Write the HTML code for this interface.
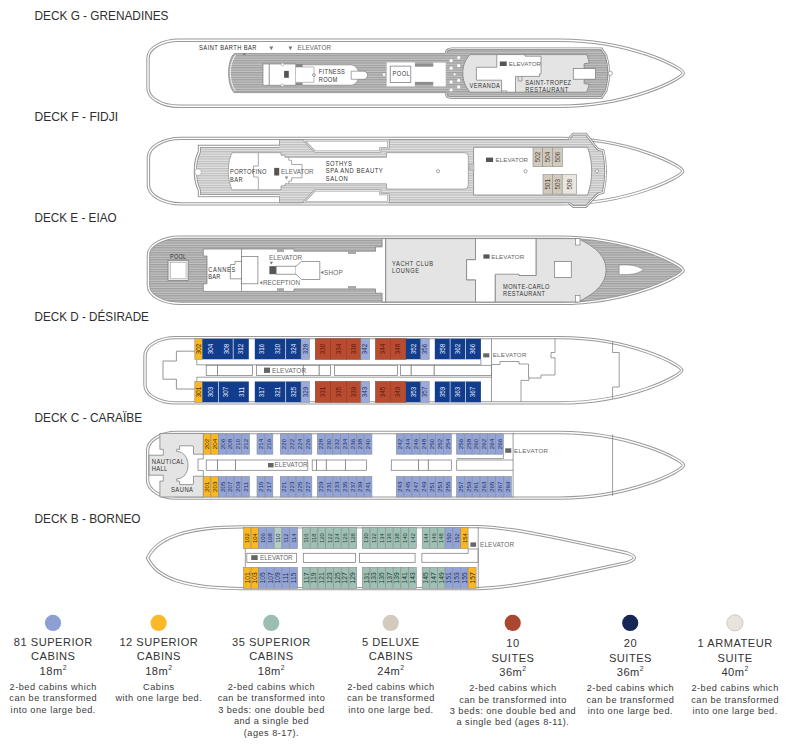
<!DOCTYPE html>
<html><head><meta charset="utf-8"><style>
html,body{margin:0;padding:0;background:#fff;}
body{width:792px;height:747px;overflow:hidden;}
svg{display:block;}
text{font-family:"Liberation Sans",sans-serif;}
</style></head><body>
<svg width="792" height="747" viewBox="0 0 792 747">
<defs>
<pattern id="st" patternUnits="userSpaceOnUse" x="0" y="0" width="8" height="2.4"><rect width="8" height="2.4" fill="#c3c3c3"/><rect y="0" width="8" height="1.2" fill="#9d9d9d"/></pattern>
<pattern id="st2" patternUnits="userSpaceOnUse" x="0" y="0" width="8" height="2.4"><rect width="8" height="2.4" fill="#e3e3e3"/><rect y="0" width="8" height="1.2" fill="#bdbdbd"/></pattern>
</defs>
<text x="34.50" y="19.50" font-size="12.6" fill="#2e2e2e" textLength="134.00" lengthAdjust="spacingAndGlyphs">DECK G - GRENADINES</text>
<text x="34.50" y="120.70" font-size="12.6" fill="#2e2e2e" textLength="83.70" lengthAdjust="spacingAndGlyphs">DECK F - FIDJI</text>
<text x="34.50" y="221.70" font-size="12.6" fill="#2e2e2e" textLength="82.10" lengthAdjust="spacingAndGlyphs">DECK E - EIAO</text>
<text x="34.50" y="321.40" font-size="12.6" fill="#2e2e2e" textLength="114.40" lengthAdjust="spacingAndGlyphs">DECK D - DÉSIRADE</text>
<text x="34.50" y="422.40" font-size="12.6" fill="#2e2e2e" textLength="107.70" lengthAdjust="spacingAndGlyphs">DECK C - CARAÏBE</text>
<text x="34.50" y="523.40" font-size="12.6" fill="#2e2e2e" textLength="106.10" lengthAdjust="spacingAndGlyphs">DECK B - BORNEO</text>
<path d="M 179.0,40.2 L 560,40.2 C 630,40.2 683.3,67.82 683.3,73.1 C 683.3,78.38 630,106.2 560,106.2 L 179.0,106.2 C 161.888,106.2 148.0,98.136 148.0,88.2 L 148.0,58.2 C 148.0,48.264 161.888,40.2 179.0,40.2 Z" fill="#fff" stroke="#999999" stroke-width="3.4" stroke-linejoin="round"/>
<path d="M 179.0,40.2 L 560,40.2 C 630,40.2 683.3,67.82 683.3,73.1 C 683.3,78.38 630,106.2 560,106.2 L 179.0,106.2 C 161.888,106.2 148.0,98.136 148.0,88.2 L 148.0,58.2 C 148.0,48.264 161.888,40.2 179.0,40.2 Z" fill="none" stroke="#ffffff" stroke-width="1.4" stroke-linejoin="round"/>
<path d="M 234,53.6 L 447,53.6 L 447,92.6 L 234,92.6 C 230,88 228.6,80 228.6,73 C 228.6,66 230,58 234,53.6 Z" fill="url(#st)" stroke="#8a8a8a" stroke-width="0.8" />
<path d="M 235.5,55 C 232,60 230.3,66 230.3,73 C 230.3,80 232,86 235.5,91" fill="none" stroke="#fff" stroke-width="0.8" />
<path d="M 446,53.6 C 446,50.6 448,48.7 452,48.7 L 601.5,48.7 L 606,55.5 C 608,62 608.8,68 608.8,73.2 C 608.8,78.4 608,84.4 606,91 L 601.5,97.7 L 452,97.7 C 448,97.7 446,95.8 446,92.8 Z" fill="url(#st)" stroke="none" stroke-width="0.7" />
<path d="M 446,53.6 C 446,50.6 448,48.7 452,48.7 L 601.5,48.7 L 606,55.5 C 608,62 608.8,68 608.8,73.2 C 608.8,78.4 608,84.4 606,91 L 601.5,97.7 L 452,97.7 C 448,97.7 446,95.8 446,92.8" fill="none" stroke="#8a8a8a" stroke-width="2.6" />
<path d="M 446,53.6 C 446,50.6 448,48.7 452,48.7 L 601.5,48.7 L 606,55.5 C 608,62 608.8,68 608.8,73.2 C 608.8,78.4 608,84.4 606,91 L 601.5,97.7 L 452,97.7 C 448,97.7 446,95.8 446,92.8" fill="none" stroke="#fff" stroke-width="0.9" />
<path d="M 470,54.6 L 587,54.6 L 589.3,62.8 L 584.1,63.8 L 584.1,83.6 L 589.3,84.4 L 586.7,92.2 L 470,92.2 C 465,86 462.8,80 462.8,73 C 462.8,66 465,60 470,54.6 Z" fill="#e4e4e4" stroke="#7c7c7c" stroke-width="0.75" />
<rect x="573.30" y="68.60" width="22.30" height="10.60" fill="#fff" stroke="#7c7c7c" stroke-width="0.75" />
<circle cx="610.3" cy="73.4" r="2.1" fill="#fff" stroke="#8a8a8a" stroke-width="0.7"/>
<path d="M 476.4,67.3 L 496.8,67.3 L 496.8,54.6 L 525,54.6 L 525,56.2 L 541,56.2 L 541,74 L 539.5,74 L 539.5,76.4 L 515.5,76.4 L 515.5,92.2 L 501.6,92.2 L 501.6,80.2 L 476.4,80.2 Z" fill="#fff" stroke="#7c7c7c" stroke-width="0.75" />
<path d="M 501.6,90.8 L 506.7,90.8 L 506.7,92.4" fill="none" stroke="#7c7c7c" stroke-width="0.65" />
<path d="M 518.2,76.4 L 518.2,81 L 522,81 L 522,76.4" fill="none" stroke="#7c7c7c" stroke-width="0.65" />
<circle cx="451.1" cy="60.7" r="1.6" fill="#fff"/>
<circle cx="451.1" cy="68.2" r="1.6" fill="#fff"/>
<circle cx="451.1" cy="81.9" r="1.6" fill="#fff"/>
<circle cx="451.1" cy="90" r="1.6" fill="#fff"/>
<circle cx="458.7" cy="57.6" r="1.6" fill="#fff"/>
<circle cx="458.7" cy="65.7" r="1.6" fill="#fff"/>
<circle cx="458.7" cy="80.4" r="1.6" fill="#fff"/>
<circle cx="458.7" cy="86.9" r="1.6" fill="#fff"/>
<circle cx="454.6" cy="74.3" r="1.1" fill="#fff"/>
<rect x="263.00" y="64.00" width="6.20" height="21.20" fill="#fff" stroke="#7c7c7c" stroke-width="0.65" />
<rect x="269.20" y="64.00" width="26.60" height="21.20" fill="#fff" stroke="#7c7c7c" stroke-width="0.65" />
<rect x="284.10" y="70.90" width="4.70" height="6.90" fill="#555" />
<rect x="296.00" y="64.00" width="7.00" height="3.00" fill="#888" />
<rect x="296.00" y="82.60" width="7.00" height="2.60" fill="#888" />
<rect x="295.80" y="67.00" width="7.70" height="15.60" fill="#fff" />
<path d="M 302.6,64.9 L 352,64.9 C 356,66 358.8,70 359,75 C 358.8,80 356,84 352,85.1 L 302.6,85.1 Z" fill="#fff" stroke="none" stroke-width="0.7" />
<path d="M 302.6,64.9 L 352,64.9 C 356,66 358.8,70 359,75 C 358.8,80 356,84 352,85.1 L 302.6,85.1" fill="none" stroke="#777" stroke-width="0.5" />
<path d="M 296,67 L 314,67 L 314,82.3 L 296,82.3" fill="none" stroke="#777" stroke-width="0.5" />
<circle cx="314" cy="75" r="1.4" fill="#fff" stroke="#555" stroke-width="0.6"/>
<path d="M 351.2,71.2 L 364,71.2 C 366.5,72 367.6,73.5 367.6,75.2 C 367.6,77 366.5,78.6 364,79.3 L 351.2,79.3 Z" fill="#fff" stroke="#7c7c7c" stroke-width="0.65" />
<circle cx="282.5" cy="64.5" r="1.4" fill="#fff" stroke="#8a8a8a" stroke-width="0.5"/>
<circle cx="282.5" cy="85.2" r="1.4" fill="#fff" stroke="#8a8a8a" stroke-width="0.5"/>
<circle cx="384" cy="74.6" r="1.3" fill="#fff"/>
<path d="M 386.6,62.3 L 415,62.3 L 415,66.5 L 433.1,66.5 L 433.1,62.5 L 445.9,62.5 L 445.9,86.4 L 433.1,86.4 L 433.1,82 L 415,82 L 415,86.4 L 386.6,86.4 Z" fill="#fff" stroke="#bdbdbd" stroke-width="0.4" />
<rect x="415.00" y="63.80" width="18.10" height="2.70" fill="#8e8e8e" />
<rect x="415.00" y="82.00" width="18.10" height="2.60" fill="#8e8e8e" />
<rect x="390.20" y="66.10" width="20.60" height="16.30" fill="#fff" stroke="#6f6f6f" stroke-width="0.7" />
<text x="199.10" y="49.70" font-size="5.76" fill="#2a2a2a" textLength="57.40" lengthAdjust="spacing" transform="translate(0 49.70) scale(1 1.1628) translate(0 -49.70)">SAINT BARTH BAR</text>
<path d="M 242.6,54.6 Q 244.3,52.6 246,54.6 Z" fill="#444"/>
<path d="M 269.3,46.6 L 273.3,46.6 L 271.3,50.2 Z" fill="#7a7a7a"/>
<path d="M 288.4,46.6 L 292.4,46.6 L 290.4,50.2 Z" fill="#7a7a7a"/>
<text x="297.60" y="49.70" font-size="6.4" fill="#666666" textLength="33.50" lengthAdjust="spacing">ELEVATOR</text>
<text x="318.80" y="74.00" font-size="5.68" fill="#333333" textLength="26.10" lengthAdjust="spacing" transform="translate(0 74.00) scale(1 1.1628) translate(0 -74.00)">FITNESS</text>
<text x="318.80" y="81.80" font-size="5.68" fill="#333333" textLength="18.50" lengthAdjust="spacing" transform="translate(0 81.80) scale(1 1.1628) translate(0 -81.80)">ROOM</text>
<text x="392.60" y="75.90" font-size="5.68" fill="#333333" textLength="17.10" lengthAdjust="spacing" transform="translate(0 75.90) scale(1 1.1628) translate(0 -75.90)">POOL</text>
<rect x="499.80" y="61.50" width="6.90" height="4.50" fill="#555" />
<text x="508.80" y="66.00" font-size="6.2" fill="#666666" textLength="32.20" lengthAdjust="spacing">ELEVATOR</text>
<text x="469.50" y="87.70" font-size="5.68" fill="#333333" textLength="30.30" lengthAdjust="spacing" transform="translate(0 87.70) scale(1 1.1628) translate(0 -87.70)">VERANDA</text>
<text x="525.30" y="85.00" font-size="5.68" fill="#333333" textLength="45.80" lengthAdjust="spacing" transform="translate(0 85.00) scale(1 1.1628) translate(0 -85.00)">SAINT-TROPEZ</text>
<text x="525.30" y="92.00" font-size="5.68" fill="#333333" textLength="43.00" lengthAdjust="spacing" transform="translate(0 92.00) scale(1 1.1628) translate(0 -92.00)">RESTAURANT</text>
<path d="M 181.4,138.4 L 560,138.4 C 630,138.4 682.7,165.91 682.7,171.15 C 682.7,176.39 630,203.9 560,203.9 L 181.4,203.9 C 163.184,203.9 148.4,195.388 148.4,184.9 L 148.4,157.4 C 148.4,146.912 163.184,138.4 181.4,138.4 Z" fill="#fff" stroke="#999999" stroke-width="3.4" stroke-linejoin="round"/>
<path d="M 181.4,138.4 L 560,138.4 C 630,138.4 682.7,165.91 682.7,171.15 C 682.7,176.39 630,203.9 560,203.9 L 181.4,203.9 C 163.184,203.9 148.4,195.388 148.4,184.9 L 148.4,157.4 C 148.4,146.912 163.184,138.4 181.4,138.4 Z" fill="none" stroke="#ffffff" stroke-width="1.4" stroke-linejoin="round"/>
<path d="M 198.3,145.2 L 279.5,145.2 L 279.5,139.6 L 303,139.6 L 314.5,151 L 380.5,151 L 380.5,147.6 L 389,147.6 L 389,139.6 L 569.8,139.6 L 569.8,137.8 L 573.2,134.1 L 585.9,134.1 L 594.6,145.3 L 598,149.3 L 603.2,150.6 C 605,158 605.6,165 605.6,171.5 C 605.6,178 605,185 603.2,192.4 L 598,194 L 594.6,197.2 L 585.9,206.6 L 573.2,206.6 L 569.8,203.5 L 569.8,202.7 L 389,202.7 L 389,194.8 L 380.5,194.8 L 380.5,191 L 314.5,191 L 303,202.7 L 279.5,202.7 L 279.5,196.7 L 198.3,196.7 L 198.3,190.5 C 195.6,185 194.2,178 194.2,171 C 194.2,164 195.6,157 198.3,151.5 Z" fill="url(#st2)" stroke="#8f8f8f" stroke-width="0.8" stroke-linejoin="miter"/>
<path d="M 279.5,146.4 L 199.4,146.4 L 199.4,151.8 C 196.8,157 195.4,164 195.4,171 C 195.4,178 196.8,185 199.4,190.2 L 199.4,195.6 L 279.5,195.6" fill="none" stroke="#8f8f8f" stroke-width="2.9" stroke-linejoin="round"/>
<path d="M 279.5,146.4 L 199.4,146.4 L 199.4,151.8 C 196.8,157 195.4,164 195.4,171 C 195.4,178 196.8,185 199.4,190.2 L 199.4,195.6 L 279.5,195.6" fill="none" stroke="#ffffff" stroke-width="1.3" stroke-linejoin="round"/>
<path d="M 569.8,139.6 L 569.8,137.8 L 573.2,134.1 L 585.9,134.1 L 594.6,145.3 L 598,149.3 L 603.2,150.6 C 605,158 605.6,165 605.6,171.5 C 605.6,178 605,185 603.2,192.4 L 598,194 L 594.6,197.2 L 585.9,206.6 L 573.2,206.6 L 569.8,203.5 L 569.8,202.7" fill="none" stroke="#8f8f8f" stroke-width="2.6" stroke-linejoin="round"/>
<path d="M 569.8,139.6 L 569.8,137.8 L 573.2,134.1 L 585.9,134.1 L 594.6,145.3 L 598,149.3 L 603.2,150.6 C 605,158 605.6,165 605.6,171.5 C 605.6,178 605,185 603.2,192.4 L 598,194 L 594.6,197.2 L 585.9,206.6 L 573.2,206.6 L 569.8,203.5 L 569.8,202.7" fill="none" stroke="#ffffff" stroke-width="1.0" stroke-linejoin="round"/>
<rect x="195" y="169" width="6.1" height="6.3" rx="2.4" fill="#fff" stroke="#999" stroke-width="0.5"/>
<path d="M 303.8,140.3 L 314.8,151.6 L 380.2,151.6 L 380.2,148.2 L 388.4,148.2 L 388.4,140.3 Z" fill="#fff" stroke="#9a9a9a" stroke-width="2.2" stroke-linejoin="round"/>
<path d="M 303.8,140.3 L 314.8,151.6 L 380.2,151.6 L 380.2,148.2 L 388.4,148.2 L 388.4,140.3 Z" fill="none" stroke="#ffffff" stroke-width="0.8" stroke-linejoin="round"/>
<path d="M 303.8,202 L 314.8,190.4 L 380.2,190.4 L 380.2,194.2 L 388.4,194.2 L 388.4,202 Z" fill="#fff" stroke="#9a9a9a" stroke-width="2.2" stroke-linejoin="round"/>
<path d="M 303.8,202 L 314.8,190.4 L 380.2,190.4 L 380.2,194.2 L 388.4,194.2 L 388.4,202 Z" fill="none" stroke="#ffffff" stroke-width="0.8" stroke-linejoin="round"/>
<path d="M 232,152.7 L 281,152.7 L 281,155.3 L 285,155.3 L 285,157.3 L 386.5,157.3 L 386.5,152.7 L 464.5,152.7 Q 468.3,152.7 468.3,156.5 L 468.3,185.2 Q 468.3,189 464.5,189 L 386.5,189 L 386.5,183.8 L 285,183.8 L 285,185.8 L 281,185.8 L 281,189.8 L 232,189.8 C 229.5,184 228.3,178 228.3,171 C 228.3,164 229.5,158 232,152.7 Z" fill="#fff" stroke="#7d7d7d" stroke-width="0.6" />
<path d="M 288.8,157.3 L 288.8,160.3 L 291.6,160.3 L 291.6,164.5 L 302,164.5 L 302,177.8 L 291.6,177.8 L 291.6,181 L 288.8,181 L 288.8,183.8" fill="none" stroke="#7c7c7c" stroke-width="0.65" />
<path d="M 258.3,152.7 L 258.3,166 L 253.5,166 L 253.5,177 L 258.3,177 L 258.3,189.8" fill="none" stroke="#7c7c7c" stroke-width="0.65" />
<path d="M 473.6,147.3 L 587.6,147.3 C 590.3,155 591.7,163 591.7,171.2 C 591.7,179.4 590.3,187 587.6,195 L 473.6,195 Z" fill="#fff" stroke="#7c7c7c" stroke-width="0.75" />
<rect x="469.50" y="164.00" width="4.50" height="6.00" fill="#c8c8c8" stroke="#999" stroke-width="0.4" />
<rect x="533.00" y="147.30" width="9.50" height="19.40" fill="#d2cabd" stroke="#8d8d8d" stroke-width="0.6" />
<text x="540.02" y="157.00" font-size="6.3" fill="#4a3f35" text-anchor="middle" transform="rotate(-90 540.02 157.00)">502</text>
<rect x="542.50" y="147.30" width="9.90" height="19.40" fill="#d2cabd" stroke="#8d8d8d" stroke-width="0.6" />
<text x="549.72" y="157.00" font-size="6.3" fill="#4a3f35" text-anchor="middle" transform="rotate(-90 549.72 157.00)">504</text>
<rect x="552.40" y="147.30" width="10.00" height="19.40" fill="#d2cabd" stroke="#8d8d8d" stroke-width="0.6" />
<text x="559.67" y="157.00" font-size="6.3" fill="#4a3f35" text-anchor="middle" transform="rotate(-90 559.67 157.00)">506</text>
<rect x="543.00" y="174.60" width="9.40" height="19.50" fill="#d2cabd" stroke="#8d8d8d" stroke-width="0.6" />
<text x="549.97" y="184.35" font-size="6.3" fill="#4a3f35" text-anchor="middle" transform="rotate(-90 549.97 184.35)">501</text>
<rect x="552.40" y="174.60" width="9.80" height="19.50" fill="#d2cabd" stroke="#8d8d8d" stroke-width="0.6" />
<text x="559.57" y="184.35" font-size="6.3" fill="#4a3f35" text-anchor="middle" transform="rotate(-90 559.57 184.35)">503</text>
<rect x="562.20" y="174.60" width="14.40" height="19.50" fill="#e9e5df" stroke="#8d8d8d" stroke-width="0.6" />
<text x="571.67" y="184.35" font-size="6.3" fill="#4a3f35" text-anchor="middle" transform="rotate(-90 571.67 184.35)">508</text>
<circle cx="438" cy="171.2" r="1.6" fill="#fff" stroke="#6f6f6f" stroke-width="0.6"/>
<circle cx="525.5" cy="171.2" r="1.6" fill="#fff" stroke="#6f6f6f" stroke-width="0.6"/>
<circle cx="596.9" cy="171.2" r="1.6" fill="#fff" stroke="#6f6f6f" stroke-width="0.6"/>
<rect x="274.20" y="167.90" width="5.00" height="7.60" fill="#555" />
<path d="M 284.8,176.6 L 288.2,176.6 L 286.5,179.4 Z" fill="#888"/>
<text x="281.00" y="174.00" font-size="6.4" fill="#666666" textLength="32.60" lengthAdjust="spacingAndGlyphs">ELEVATOR</text>
<text x="230.00" y="174.00" font-size="5.68" fill="#333333" textLength="36.40" lengthAdjust="spacing" transform="translate(0 174.00) scale(1 1.1628) translate(0 -174.00)">PORTOFINO</text>
<text x="230.00" y="181.80" font-size="5.68" fill="#333333" textLength="12.50" lengthAdjust="spacing" transform="translate(0 181.80) scale(1 1.1628) translate(0 -181.80)">BAR</text>
<text x="325.80" y="166.00" font-size="5.85" fill="#333333" textLength="26.00" lengthAdjust="spacing" transform="translate(0 166.00) scale(1 1.1628) translate(0 -166.00)">SOTHYS</text>
<text x="325.80" y="173.20" font-size="5.85" fill="#333333" textLength="56.90" lengthAdjust="spacing" transform="translate(0 173.20) scale(1 1.1628) translate(0 -173.20)">SPA AND BEAUTY</text>
<text x="325.80" y="181.00" font-size="5.85" fill="#333333" textLength="22.00" lengthAdjust="spacing" transform="translate(0 181.00) scale(1 1.1628) translate(0 -181.00)">SALON</text>
<rect x="486.00" y="157.60" width="7.10" height="4.40" fill="#555" />
<text x="495.50" y="162.00" font-size="6.2" fill="#666666" textLength="32.50" lengthAdjust="spacing">ELEVATOR</text>
<path d="M 180.4,237.1 L 560,237.1 C 630,237.1 683.2,264.95 683.2,270.25 C 683.2,275.55 630,303.4 560,303.4 L 180.4,303.4 C 162.73600000000002,303.4 148.4,295.33599999999996 148.4,285.4 L 148.4,255.1 C 148.4,245.164 162.73600000000002,237.1 180.4,237.1 Z" fill="url(#st)" stroke="#999999" stroke-width="3.4" stroke-linejoin="round"/>
<path d="M 180.4,237.1 L 560,237.1 C 630,237.1 683.2,264.95 683.2,270.25 C 683.2,275.55 630,303.4 560,303.4 L 180.4,303.4 C 162.73600000000002,303.4 148.4,295.33599999999996 148.4,285.4 L 148.4,255.1 C 148.4,245.164 162.73600000000002,237.1 180.4,237.1 Z" fill="none" stroke="#ffffff" stroke-width="1.4" stroke-linejoin="round"/>
<rect x="168.00" y="260.30" width="20.20" height="20.20" fill="#e8e8e8" stroke="#7c7c7c" stroke-width="0.75" />
<rect x="170.50" y="262.50" width="15.50" height="16.00" fill="#fff" stroke="#999" stroke-width="0.5" />
<text x="170.00" y="258.80" font-size="5.5" fill="#333333" textLength="16.00" lengthAdjust="spacing" transform="translate(0 258.80) scale(1 1.1628) translate(0 -258.80)">POOL</text>
<path d="M 203.3,249 L 294,249 L 294,251.2 L 375.5,251.2 L 375.5,246.9 L 382.1,246.9 L 382.1,238.6 L 385.7,238.6 L 385.7,302 L 382.1,302 L 382.1,293.2 L 375.5,293.2 L 375.5,288.9 L 294,288.9 L 294,291.4 L 203.3,291.4 L 203.3,283.8 L 207,283.8 L 207,256 L 203.3,256 Z" fill="#fff" stroke="#7c7c7c" stroke-width="0.75" />
<rect x="277.00" y="248.60" width="7.00" height="3.40" fill="#a8a8a8" />
<rect x="348.00" y="251.00" width="8.00" height="3.00" fill="#a8a8a8" />
<rect x="277.00" y="288.20" width="7.00" height="3.20" fill="#a8a8a8" />
<rect x="348.00" y="286.00" width="8.00" height="2.90" fill="#a8a8a8" />
<path d="M 241.5,249 L 241.5,291.4" fill="none" stroke="#7c7c7c" stroke-width="0.75" />
<rect x="241.50" y="256.50" width="16.40" height="27.30" fill="#fff" stroke="#7c7c7c" stroke-width="0.75" />
<path d="M 241.5,261.4 L 235,261.4 L 235,264.5 L 230.3,264.5 L 230.3,278.8 L 241.5,278.8" fill="none" stroke="#7c7c7c" stroke-width="0.75" />
<rect x="269.40" y="266.20" width="6.80" height="8.00" fill="#555" />
<rect x="276.20" y="266.20" width="19.80" height="8.00" fill="#fff" stroke="#7c7c7c" stroke-width="0.75" />
<path d="M 296,266.2 L 301.5,261.5 L 319.8,261.5 L 319.8,279.5 L 301.5,279.5 L 296,274.2" fill="#fff" stroke="#7c7c7c" stroke-width="0.75" />
<path d="M 269.6,261.8 L 273,261.8 L 271.3,264.6 Z" fill="#777"/>
<text x="269.10" y="260.00" font-size="6.4" fill="#666666" textLength="33.00" lengthAdjust="spacingAndGlyphs">ELEVATOR</text>
<path d="M 320.6,272.4 L 323.4,270.6 L 323.4,274.2 Z" fill="#777"/>
<text x="324.00" y="274.70" font-size="6.4" fill="#666666" textLength="18.80" lengthAdjust="spacing">SHOP</text>
<path d="M 259.6,282.8 L 262.4,281 L 262.4,284.6 Z" fill="#777"/>
<text x="263.00" y="285.00" font-size="6.4" fill="#666666" textLength="37.00" lengthAdjust="spacingAndGlyphs">RECEPTION</text>
<text x="208.20" y="272.10" font-size="5.68" fill="#333333" textLength="27.20" lengthAdjust="spacing" transform="translate(0 272.10) scale(1 1.1628) translate(0 -272.10)">CANNES</text>
<text x="208.20" y="279.00" font-size="5.68" fill="#333333" textLength="12.10" lengthAdjust="spacing" transform="translate(0 279.00) scale(1 1.1628) translate(0 -279.00)">BAR</text>
<path d="M 385.7,238.6 L 475.5,238.6 L 475.5,259.7 L 466.6,259.7 L 466.6,279.8 L 475.5,279.8 L 475.5,302 L 385.7,302 Z" fill="#e4e4e4" stroke="#7c7c7c" stroke-width="0.75" />
<text x="392.00" y="265.70" font-size="5.68" fill="#333333" textLength="41.00" lengthAdjust="spacing" transform="translate(0 265.70) scale(1 1.1628) translate(0 -265.70)">YACHT CLUB</text>
<text x="392.00" y="272.70" font-size="5.68" fill="#333333" textLength="27.00" lengthAdjust="spacing" transform="translate(0 272.70) scale(1 1.1628) translate(0 -272.70)">LOUNGE</text>
<path d="M 475.5,238.6 L 536.2,238.6 L 536.2,275.5 L 495.3,275.5 L 495.3,302 L 475.5,302 L 475.5,279.8 L 466.6,279.8 L 466.6,259.7 L 475.5,259.7 Z" fill="#fff" stroke="#7c7c7c" stroke-width="0.75" />
<path d="M 536.2,238.6 L 578,238.6 C 598,248 606,258 606,270 C 606,282 598,292 578,302 L 495.3,302 L 495.3,274.2 L 519,274.2 L 519,275.5 L 536.2,275.5 Z" fill="#e4e4e4" stroke="#7c7c7c" stroke-width="0.75" />
<rect x="575.50" y="238.60" width="4.50" height="6.40" fill="#fff" stroke="#7c7c7c" stroke-width="0.65" />
<rect x="575.50" y="295.50" width="4.50" height="6.50" fill="#fff" stroke="#7c7c7c" stroke-width="0.65" />
<rect x="554.40" y="261.60" width="16.90" height="15.90" fill="#fff" stroke="#7c7c7c" stroke-width="0.75" />
<path d="M 619.2,265 L 628,265 C 635,265.3 640,267.3 643.4,269.8 C 640,272.3 635,274.3 628,274.6 L 619.2,274.6 Z" fill="#fff" stroke="#777" stroke-width="0.5" />
<rect x="483.40" y="254.40" width="6.20" height="4.20" fill="#555" />
<text x="491.30" y="258.60" font-size="6.2" fill="#666666" textLength="32.80" lengthAdjust="spacing">ELEVATOR</text>
<text x="503.10" y="288.80" font-size="5.68" fill="#333333" textLength="46.20" lengthAdjust="spacing" transform="translate(0 288.80) scale(1 1.1628) translate(0 -288.80)">MONTE-CARLO</text>
<text x="503.10" y="295.70" font-size="5.68" fill="#333333" textLength="42.00" lengthAdjust="spacing" transform="translate(0 295.70) scale(1 1.1628) translate(0 -295.70)">RESTAURANT</text>
<path d="M 176.0,337.6 L 560,337.6 C 630,337.6 681.7,365.03 681.7,370.25 C 681.7,375.47 630,402.9 560,402.9 L 176.0,402.9 C 158.888,402.9 145.0,394.83599999999996 145.0,384.9 L 145.0,355.6 C 145.0,345.66400000000004 158.888,337.6 176.0,337.6 Z" fill="#fff" stroke="#999999" stroke-width="3.4" stroke-linejoin="round"/>
<path d="M 176.0,337.6 L 560,337.6 C 630,337.6 681.7,365.03 681.7,370.25 C 681.7,375.47 630,402.9 560,402.9 L 176.0,402.9 C 158.888,402.9 145.0,394.83599999999996 145.0,384.9 L 145.0,355.6 C 145.0,345.66400000000004 158.888,337.6 176.0,337.6 Z" fill="none" stroke="#ffffff" stroke-width="1.4" stroke-linejoin="round"/>
<path d="M 194.8,351.2 L 176.4,351.2 L 176.4,361 L 163,361 L 163,379.2 L 176.4,379.2 L 176.4,389 L 194.8,389" fill="none" stroke="#7a7a7a" stroke-width="0.8" />
<path d="M 196.8,359.5 L 196.8,364.8 L 480.9,364.8 L 480.9,359.3" fill="none" stroke="#7c7c7c" stroke-width="0.75" />
<path d="M 196.8,381.5 L 196.8,377.2 L 491.5,377.2" fill="none" stroke="#7c7c7c" stroke-width="0.75" />
<rect x="206.20" y="365.30" width="11.40" height="10.20" fill="#fff" stroke="#7c7c7c" stroke-width="0.75" />
<rect x="217.60" y="365.30" width="34.80" height="10.20" fill="#fff" stroke="#7c7c7c" stroke-width="0.75" />
<rect x="256.40" y="365.30" width="46.90" height="10.20" fill="#fff" stroke="#7c7c7c" stroke-width="0.75" />
<rect x="303.30" y="365.30" width="15.90" height="10.20" fill="#fff" stroke="#7c7c7c" stroke-width="0.75" />
<rect x="319.20" y="365.30" width="11.40" height="10.20" fill="#fff" stroke="#7c7c7c" stroke-width="0.75" />
<rect x="334.40" y="365.30" width="63.00" height="10.20" fill="#fff" stroke="#7c7c7c" stroke-width="0.75" />
<rect x="400.60" y="365.30" width="10.60" height="10.20" fill="#fff" stroke="#7c7c7c" stroke-width="0.75" />
<rect x="411.20" y="365.30" width="23.00" height="10.20" fill="#fff" stroke="#7c7c7c" stroke-width="0.75" />
<rect x="434.20" y="365.30" width="57.30" height="10.20" fill="#fff" stroke="#7c7c7c" stroke-width="0.75" />
<path d="M 491.5,338.5 L 491.5,402" fill="none" stroke="#7c7c7c" stroke-width="0.75" />
<path d="M 491.5,364.5 L 500,364.5 L 500,361.5 L 519,361.5 L 519,364 L 528.5,364 L 528.5,378 L 541,378 L 541,375 L 555,375 L 555,357.8 L 551,357.8 L 551,352.5 L 555,352.5 L 555,338.5" fill="none" stroke="#7c7c7c" stroke-width="0.75" />
<path d="M 521,402 L 521,380.4 L 529,380.4 L 529,378" fill="none" stroke="#7c7c7c" stroke-width="0.75" />
<path d="M 612.6,341.8 L 612.6,352.5 L 619.2,352.5 L 619.2,387 L 612.6,387 L 612.6,398.6" fill="none" stroke="#7c7c7c" stroke-width="0.75" />
<rect x="194.80" y="338.80" width="7.60" height="20.50" fill="#fbb722" stroke="#8d8d8d" stroke-width="0.6" />
<text x="200.87" y="349.05" font-size="6.3" fill="#3a2a00" text-anchor="middle" transform="rotate(-90 200.87 349.05)">302</text>
<rect x="202.40" y="338.80" width="30.80" height="20.50" fill="#123c8c" />
<text x="213.47" y="349.05" font-size="6.3" fill="#e8eeff" text-anchor="middle" transform="rotate(-90 213.47 349.05)">304</text>
<text x="228.67" y="349.05" font-size="6.3" fill="#e8eeff" text-anchor="middle" transform="rotate(-90 228.67 349.05)">308</text>
<rect x="233.20" y="338.80" width="15.60" height="20.50" fill="#123c8c" />
<line x1="233.20" y1="338.80" x2="233.20" y2="359.30" stroke="#d8e0f2" stroke-width="0.7"/>
<text x="243.27" y="349.05" font-size="6.3" fill="#e8eeff" text-anchor="middle" transform="rotate(-90 243.27 349.05)">312</text>
<rect x="254.80" y="338.80" width="30.80" height="20.50" fill="#123c8c" />
<text x="264.27" y="349.05" font-size="6.3" fill="#e8eeff" text-anchor="middle" transform="rotate(-90 264.27 349.05)">316</text>
<text x="279.87" y="349.05" font-size="6.3" fill="#e8eeff" text-anchor="middle" transform="rotate(-90 279.87 349.05)">320</text>
<rect x="285.60" y="338.80" width="15.50" height="20.50" fill="#123c8c" />
<line x1="285.60" y1="338.80" x2="285.60" y2="359.30" stroke="#d8e0f2" stroke-width="0.7"/>
<text x="295.62" y="349.05" font-size="6.3" fill="#e8eeff" text-anchor="middle" transform="rotate(-90 295.62 349.05)">324</text>
<rect x="301.10" y="338.80" width="8.30" height="20.50" fill="#9aaadb" stroke="#8d8d8d" stroke-width="0.6" />
<text x="307.52" y="349.05" font-size="6.3" fill="#1d2b5e" text-anchor="middle" transform="rotate(-90 307.52 349.05)">328</text>
<rect x="315.30" y="338.80" width="15.30" height="20.50" fill="#b94c30" stroke="#8e3a22" stroke-width="0.6" />
<text x="325.22" y="349.05" font-size="6.3" fill="#5a1a0c" text-anchor="middle" transform="rotate(-90 325.22 349.05)">330</text>
<rect x="330.60" y="338.80" width="15.90" height="20.50" fill="#b94c30" stroke="#8e3a22" stroke-width="0.6" />
<text x="340.82" y="349.05" font-size="6.3" fill="#5a1a0c" text-anchor="middle" transform="rotate(-90 340.82 349.05)">334</text>
<rect x="346.50" y="338.80" width="14.40" height="20.50" fill="#b94c30" stroke="#8e3a22" stroke-width="0.6" />
<text x="355.97" y="349.05" font-size="6.3" fill="#5a1a0c" text-anchor="middle" transform="rotate(-90 355.97 349.05)">338</text>
<rect x="360.90" y="338.80" width="8.60" height="20.50" fill="#9aaadb" stroke="#8d8d8d" stroke-width="0.6" />
<text x="367.47" y="349.05" font-size="6.3" fill="#1d2b5e" text-anchor="middle" transform="rotate(-90 367.47 349.05)">342</text>
<rect x="375.50" y="338.80" width="14.90" height="20.50" fill="#b94c30" stroke="#8e3a22" stroke-width="0.6" />
<text x="385.22" y="349.05" font-size="6.3" fill="#5a1a0c" text-anchor="middle" transform="rotate(-90 385.22 349.05)">344</text>
<rect x="390.40" y="338.80" width="15.50" height="20.50" fill="#b94c30" stroke="#8e3a22" stroke-width="0.6" />
<text x="400.42" y="349.05" font-size="6.3" fill="#5a1a0c" text-anchor="middle" transform="rotate(-90 400.42 349.05)">348</text>
<rect x="405.90" y="338.80" width="14.90" height="20.50" fill="#123c8c" />
<text x="415.62" y="349.05" font-size="6.3" fill="#e8eeff" text-anchor="middle" transform="rotate(-90 415.62 349.05)">352</text>
<rect x="420.80" y="338.80" width="8.40" height="20.50" fill="#9aaadb" stroke="#8d8d8d" stroke-width="0.6" />
<text x="427.27" y="349.05" font-size="6.3" fill="#1d2b5e" text-anchor="middle" transform="rotate(-90 427.27 349.05)">356</text>
<rect x="434.80" y="338.80" width="15.30" height="20.50" fill="#123c8c" />
<text x="444.72" y="349.05" font-size="6.3" fill="#e8eeff" text-anchor="middle" transform="rotate(-90 444.72 349.05)">358</text>
<rect x="450.10" y="338.80" width="15.40" height="20.50" fill="#123c8c" />
<line x1="450.10" y1="338.80" x2="450.10" y2="359.30" stroke="#d8e0f2" stroke-width="0.7"/>
<text x="460.07" y="349.05" font-size="6.3" fill="#e8eeff" text-anchor="middle" transform="rotate(-90 460.07 349.05)">362</text>
<rect x="465.50" y="338.80" width="15.40" height="20.50" fill="#123c8c" />
<line x1="465.50" y1="338.80" x2="465.50" y2="359.30" stroke="#d8e0f2" stroke-width="0.7"/>
<text x="475.47" y="349.05" font-size="6.3" fill="#e8eeff" text-anchor="middle" transform="rotate(-90 475.47 349.05)">366</text>
<rect x="194.80" y="381.50" width="7.60" height="20.80" fill="#fbb722" stroke="#8d8d8d" stroke-width="0.6" />
<text x="200.87" y="391.90" font-size="6.3" fill="#3a2a00" text-anchor="middle" transform="rotate(-90 200.87 391.90)">301</text>
<rect x="202.40" y="381.50" width="16.10" height="20.80" fill="#123c8c" />
<text x="212.72" y="391.90" font-size="6.3" fill="#e8eeff" text-anchor="middle" transform="rotate(-90 212.72 391.90)">303</text>
<rect x="218.50" y="381.50" width="30.30" height="20.80" fill="#123c8c" />
<line x1="218.50" y1="381.50" x2="218.50" y2="402.30" stroke="#d8e0f2" stroke-width="0.7"/>
<text x="228.27" y="391.90" font-size="6.3" fill="#e8eeff" text-anchor="middle" transform="rotate(-90 228.27 391.90)">307</text>
<text x="243.77" y="391.90" font-size="6.3" fill="#e8eeff" text-anchor="middle" transform="rotate(-90 243.77 391.90)">311</text>
<rect x="254.80" y="381.50" width="30.80" height="20.80" fill="#123c8c" />
<text x="264.27" y="391.90" font-size="6.3" fill="#e8eeff" text-anchor="middle" transform="rotate(-90 264.27 391.90)">317</text>
<text x="279.87" y="391.90" font-size="6.3" fill="#e8eeff" text-anchor="middle" transform="rotate(-90 279.87 391.90)">321</text>
<rect x="285.60" y="381.50" width="15.50" height="20.80" fill="#123c8c" />
<line x1="285.60" y1="381.50" x2="285.60" y2="402.30" stroke="#d8e0f2" stroke-width="0.7"/>
<text x="295.62" y="391.90" font-size="6.3" fill="#e8eeff" text-anchor="middle" transform="rotate(-90 295.62 391.90)">325</text>
<rect x="301.10" y="381.50" width="8.30" height="20.80" fill="#9aaadb" stroke="#8d8d8d" stroke-width="0.6" />
<text x="307.52" y="391.90" font-size="6.3" fill="#1d2b5e" text-anchor="middle" transform="rotate(-90 307.52 391.90)">329</text>
<rect x="315.30" y="381.50" width="15.30" height="20.80" fill="#b94c30" stroke="#8e3a22" stroke-width="0.6" />
<text x="325.22" y="391.90" font-size="6.3" fill="#5a1a0c" text-anchor="middle" transform="rotate(-90 325.22 391.90)">331</text>
<rect x="330.60" y="381.50" width="15.90" height="20.80" fill="#b94c30" stroke="#8e3a22" stroke-width="0.6" />
<text x="340.82" y="391.90" font-size="6.3" fill="#5a1a0c" text-anchor="middle" transform="rotate(-90 340.82 391.90)">335</text>
<rect x="346.50" y="381.50" width="14.40" height="20.80" fill="#b94c30" stroke="#8e3a22" stroke-width="0.6" />
<text x="355.97" y="391.90" font-size="6.3" fill="#5a1a0c" text-anchor="middle" transform="rotate(-90 355.97 391.90)">339</text>
<rect x="360.90" y="381.50" width="8.60" height="20.80" fill="#9aaadb" stroke="#8d8d8d" stroke-width="0.6" />
<text x="367.47" y="391.90" font-size="6.3" fill="#1d2b5e" text-anchor="middle" transform="rotate(-90 367.47 391.90)">343</text>
<rect x="375.50" y="381.50" width="14.90" height="20.80" fill="#b94c30" stroke="#8e3a22" stroke-width="0.6" />
<text x="385.22" y="391.90" font-size="6.3" fill="#5a1a0c" text-anchor="middle" transform="rotate(-90 385.22 391.90)">345</text>
<rect x="390.40" y="381.50" width="15.50" height="20.80" fill="#b94c30" stroke="#8e3a22" stroke-width="0.6" />
<text x="400.42" y="391.90" font-size="6.3" fill="#5a1a0c" text-anchor="middle" transform="rotate(-90 400.42 391.90)">349</text>
<rect x="405.90" y="381.50" width="14.90" height="20.80" fill="#123c8c" />
<text x="415.62" y="391.90" font-size="6.3" fill="#e8eeff" text-anchor="middle" transform="rotate(-90 415.62 391.90)">353</text>
<rect x="420.80" y="381.50" width="8.40" height="20.80" fill="#9aaadb" stroke="#8d8d8d" stroke-width="0.6" />
<text x="427.27" y="391.90" font-size="6.3" fill="#1d2b5e" text-anchor="middle" transform="rotate(-90 427.27 391.90)">357</text>
<rect x="434.80" y="381.50" width="15.30" height="20.80" fill="#123c8c" />
<text x="444.72" y="391.90" font-size="6.3" fill="#e8eeff" text-anchor="middle" transform="rotate(-90 444.72 391.90)">359</text>
<rect x="450.10" y="381.50" width="15.40" height="20.80" fill="#123c8c" />
<line x1="450.10" y1="381.50" x2="450.10" y2="402.30" stroke="#d8e0f2" stroke-width="0.7"/>
<text x="460.07" y="391.90" font-size="6.3" fill="#e8eeff" text-anchor="middle" transform="rotate(-90 460.07 391.90)">363</text>
<rect x="465.50" y="381.50" width="15.40" height="20.80" fill="#123c8c" />
<line x1="465.50" y1="381.50" x2="465.50" y2="402.30" stroke="#d8e0f2" stroke-width="0.7"/>
<text x="475.47" y="391.90" font-size="6.3" fill="#e8eeff" text-anchor="middle" transform="rotate(-90 475.47 391.90)">367</text>
<rect x="264.00" y="367.60" width="6.00" height="5.30" fill="#666" />
<text x="272.00" y="372.90" font-size="6.4" fill="#666666" textLength="34.00" lengthAdjust="spacing">ELEVATOR</text>
<rect x="483.20" y="353.30" width="6.10" height="4.10" fill="#666" />
<text x="492.70" y="357.40" font-size="6.2" fill="#666666" textLength="33.70" lengthAdjust="spacing">ELEVATOR</text>
<path d="M 176.6,432.5 L 560,432.5 C 630,432.5 683.5,460.05 683.5,465.3 C 683.5,470.55 630,498.1 560,498.1 L 176.6,498.1 C 160.59199999999998,498.1 147.6,490.036 147.6,480.1 L 147.6,450.5 C 147.6,440.564 160.59199999999998,432.5 176.6,432.5 Z" fill="#fff" stroke="#999999" stroke-width="3.4" stroke-linejoin="round"/>
<path d="M 176.6,432.5 L 560,432.5 C 630,432.5 683.5,460.05 683.5,465.3 C 683.5,470.55 630,498.1 560,498.1 L 176.6,498.1 C 160.59199999999998,498.1 147.6,490.036 147.6,480.1 L 147.6,450.5 C 147.6,440.564 160.59199999999998,432.5 176.6,432.5 Z" fill="none" stroke="#ffffff" stroke-width="1.4" stroke-linejoin="round"/>
<path d="M 159.9,433.4 L 203.3,433.4 L 203.3,454.2 L 193.5,454.2 L 193.5,447.3 Q 193.5,445.8 192,445.8 L 179.7,445.8 L 179.7,449.3 L 176.7,449.3 L 176.7,451.5 C 184,451.5 188,458 188,465.2 C 188,472.4 184,478.9 176.7,478.9 L 176.7,481.1 L 179.7,481.1 L 179.7,484.6 L 192,484.6 Q 193.5,484.6 193.5,483.1 L 193.5,476.2 L 203.3,476.2 L 203.3,497 L 159.9,497 L 159.9,481.1 L 163.3,481.1 L 163.3,475.2 L 149,475.2 L 149,455.2 L 163.3,455.2 L 163.3,449.3 L 159.9,449.3 Z" fill="#e4e4e4" stroke="#7c7c7c" stroke-width="0.75" />
<path d="M 203.3,454 L 203.3,459 L 198,459 L 198,470.5 L 203.3,470.5 L 203.3,476.5" fill="none" stroke="#7c7c7c" stroke-width="0.75" />
<rect x="206.20" y="460.00" width="11.40" height="10.30" fill="#fff" stroke="#7c7c7c" stroke-width="0.75" />
<rect x="217.60" y="460.00" width="18.00" height="10.30" fill="#fff" stroke="#7c7c7c" stroke-width="0.75" />
<rect x="235.60" y="460.00" width="72.20" height="10.30" fill="#fff" stroke="#7c7c7c" stroke-width="0.75" />
<rect x="312.20" y="460.00" width="4.40" height="10.30" fill="#fff" stroke="#7c7c7c" stroke-width="0.75" />
<rect x="316.60" y="460.00" width="9.70" height="10.30" fill="#fff" stroke="#7c7c7c" stroke-width="0.75" />
<rect x="326.30" y="460.00" width="19.10" height="10.30" fill="#fff" stroke="#7c7c7c" stroke-width="0.75" />
<rect x="345.40" y="460.00" width="21.20" height="10.30" fill="#fff" stroke="#7c7c7c" stroke-width="0.75" />
<rect x="391.30" y="460.00" width="27.30" height="10.30" fill="#fff" stroke="#7c7c7c" stroke-width="0.75" />
<rect x="418.60" y="460.00" width="9.70" height="10.30" fill="#fff" stroke="#7c7c7c" stroke-width="0.75" />
<rect x="428.30" y="460.00" width="23.00" height="10.30" fill="#fff" stroke="#7c7c7c" stroke-width="0.75" />
<path d="M 513.1,460 L 456.6,460 L 456.6,470.3 L 513.1,470.3" fill="#fff" stroke="#7c7c7c" stroke-width="0.75" />
<path d="M 456.6,458.6 L 503.4,458.6 L 503.4,454.2" fill="none" stroke="#7c7c7c" stroke-width="0.75" />
<path d="M 513.1,432.8 L 513.1,497.8" fill="none" stroke="#7c7c7c" stroke-width="0.75" />
<path d="M 612.6,434.5 L 612.6,496" fill="none" stroke="#7c7c7c" stroke-width="0.75" />
<rect x="203.30" y="433.80" width="7.60" height="20.40" fill="#fbb722" stroke="#8d8d8d" stroke-width="0.6" />
<text x="209.33" y="444.00" font-size="6.2" fill="#3a2a00" text-anchor="middle" transform="rotate(-90 209.33 444.00)">202</text>
<rect x="210.90" y="433.80" width="7.60" height="20.40" fill="#fbb722" stroke="#8d8d8d" stroke-width="0.6" />
<text x="216.93" y="444.00" font-size="6.2" fill="#3a2a00" text-anchor="middle" transform="rotate(-90 216.93 444.00)">204</text>
<rect x="203.30" y="476.50" width="7.60" height="20.50" fill="#fbb722" stroke="#8d8d8d" stroke-width="0.6" />
<text x="209.33" y="486.75" font-size="6.2" fill="#3a2a00" text-anchor="middle" transform="rotate(-90 209.33 486.75)">201</text>
<rect x="210.90" y="476.50" width="7.60" height="20.50" fill="#fbb722" stroke="#8d8d8d" stroke-width="0.6" />
<text x="216.93" y="486.75" font-size="6.2" fill="#3a2a00" text-anchor="middle" transform="rotate(-90 216.93 486.75)">203</text>
<rect x="218.50" y="433.80" width="7.72" height="20.40" fill="#93a4d9" stroke="#8d8d8d" stroke-width="0.6" />
<text x="224.59" y="444.00" font-size="6.2" fill="#22305c" text-anchor="middle" transform="rotate(-90 224.59 444.00)">206</text>
<rect x="226.22" y="433.80" width="7.72" height="20.40" fill="#93a4d9" stroke="#8d8d8d" stroke-width="0.6" />
<text x="232.32" y="444.00" font-size="6.2" fill="#22305c" text-anchor="middle" transform="rotate(-90 232.32 444.00)">208</text>
<rect x="233.95" y="433.80" width="7.73" height="20.40" fill="#93a4d9" stroke="#8d8d8d" stroke-width="0.6" />
<text x="240.04" y="444.00" font-size="6.2" fill="#22305c" text-anchor="middle" transform="rotate(-90 240.04 444.00)">210</text>
<rect x="241.68" y="433.80" width="7.72" height="20.40" fill="#93a4d9" stroke="#8d8d8d" stroke-width="0.6" />
<text x="247.77" y="444.00" font-size="6.2" fill="#22305c" text-anchor="middle" transform="rotate(-90 247.77 444.00)">212</text>
<rect x="218.50" y="476.50" width="7.72" height="20.50" fill="#93a4d9" stroke="#8d8d8d" stroke-width="0.6" />
<text x="224.59" y="486.75" font-size="6.2" fill="#22305c" text-anchor="middle" transform="rotate(-90 224.59 486.75)">205</text>
<rect x="226.22" y="476.50" width="7.72" height="20.50" fill="#93a4d9" stroke="#8d8d8d" stroke-width="0.6" />
<text x="232.32" y="486.75" font-size="6.2" fill="#22305c" text-anchor="middle" transform="rotate(-90 232.32 486.75)">207</text>
<rect x="233.95" y="476.50" width="7.73" height="20.50" fill="#93a4d9" stroke="#8d8d8d" stroke-width="0.6" />
<text x="240.04" y="486.75" font-size="6.2" fill="#22305c" text-anchor="middle" transform="rotate(-90 240.04 486.75)">209</text>
<rect x="241.68" y="476.50" width="7.72" height="20.50" fill="#93a4d9" stroke="#8d8d8d" stroke-width="0.6" />
<text x="247.77" y="486.75" font-size="6.2" fill="#22305c" text-anchor="middle" transform="rotate(-90 247.77 486.75)">211</text>
<rect x="257.00" y="433.80" width="7.90" height="20.40" fill="#93a4d9" stroke="#8d8d8d" stroke-width="0.6" />
<text x="263.18" y="444.00" font-size="6.2" fill="#22305c" text-anchor="middle" transform="rotate(-90 263.18 444.00)">214</text>
<rect x="264.90" y="433.80" width="7.90" height="20.40" fill="#93a4d9" stroke="#8d8d8d" stroke-width="0.6" />
<text x="271.08" y="444.00" font-size="6.2" fill="#22305c" text-anchor="middle" transform="rotate(-90 271.08 444.00)">216</text>
<rect x="257.00" y="476.50" width="7.90" height="20.50" fill="#93a4d9" stroke="#8d8d8d" stroke-width="0.6" />
<text x="263.18" y="486.75" font-size="6.2" fill="#22305c" text-anchor="middle" transform="rotate(-90 263.18 486.75)">215</text>
<rect x="264.90" y="476.50" width="7.90" height="20.50" fill="#93a4d9" stroke="#8d8d8d" stroke-width="0.6" />
<text x="271.08" y="486.75" font-size="6.2" fill="#22305c" text-anchor="middle" transform="rotate(-90 271.08 486.75)">217</text>
<rect x="280.30" y="433.80" width="7.88" height="20.40" fill="#93a4d9" stroke="#8d8d8d" stroke-width="0.6" />
<text x="286.47" y="444.00" font-size="6.2" fill="#22305c" text-anchor="middle" transform="rotate(-90 286.47 444.00)">220</text>
<rect x="288.18" y="433.80" width="7.88" height="20.40" fill="#93a4d9" stroke="#8d8d8d" stroke-width="0.6" />
<text x="294.34" y="444.00" font-size="6.2" fill="#22305c" text-anchor="middle" transform="rotate(-90 294.34 444.00)">222</text>
<rect x="296.05" y="433.80" width="7.88" height="20.40" fill="#93a4d9" stroke="#8d8d8d" stroke-width="0.6" />
<text x="302.22" y="444.00" font-size="6.2" fill="#22305c" text-anchor="middle" transform="rotate(-90 302.22 444.00)">224</text>
<rect x="303.93" y="433.80" width="7.88" height="20.40" fill="#93a4d9" stroke="#8d8d8d" stroke-width="0.6" />
<text x="310.09" y="444.00" font-size="6.2" fill="#22305c" text-anchor="middle" transform="rotate(-90 310.09 444.00)">226</text>
<rect x="280.30" y="476.50" width="7.88" height="20.50" fill="#93a4d9" stroke="#8d8d8d" stroke-width="0.6" />
<text x="286.47" y="486.75" font-size="6.2" fill="#22305c" text-anchor="middle" transform="rotate(-90 286.47 486.75)">221</text>
<rect x="288.18" y="476.50" width="7.88" height="20.50" fill="#93a4d9" stroke="#8d8d8d" stroke-width="0.6" />
<text x="294.34" y="486.75" font-size="6.2" fill="#22305c" text-anchor="middle" transform="rotate(-90 294.34 486.75)">223</text>
<rect x="296.05" y="476.50" width="7.88" height="20.50" fill="#93a4d9" stroke="#8d8d8d" stroke-width="0.6" />
<text x="302.22" y="486.75" font-size="6.2" fill="#22305c" text-anchor="middle" transform="rotate(-90 302.22 486.75)">225</text>
<rect x="303.93" y="476.50" width="7.88" height="20.50" fill="#93a4d9" stroke="#8d8d8d" stroke-width="0.6" />
<text x="310.09" y="486.75" font-size="6.2" fill="#22305c" text-anchor="middle" transform="rotate(-90 310.09 486.75)">227</text>
<rect x="317.30" y="433.80" width="7.80" height="20.40" fill="#93a4d9" stroke="#8d8d8d" stroke-width="0.6" />
<text x="323.43" y="444.00" font-size="6.2" fill="#22305c" text-anchor="middle" transform="rotate(-90 323.43 444.00)">228</text>
<rect x="325.10" y="433.80" width="7.80" height="20.40" fill="#93a4d9" stroke="#8d8d8d" stroke-width="0.6" />
<text x="331.23" y="444.00" font-size="6.2" fill="#22305c" text-anchor="middle" transform="rotate(-90 331.23 444.00)">230</text>
<rect x="332.90" y="433.80" width="7.80" height="20.40" fill="#93a4d9" stroke="#8d8d8d" stroke-width="0.6" />
<text x="339.03" y="444.00" font-size="6.2" fill="#22305c" text-anchor="middle" transform="rotate(-90 339.03 444.00)">232</text>
<rect x="340.70" y="433.80" width="7.80" height="20.40" fill="#93a4d9" stroke="#8d8d8d" stroke-width="0.6" />
<text x="346.83" y="444.00" font-size="6.2" fill="#22305c" text-anchor="middle" transform="rotate(-90 346.83 444.00)">234</text>
<rect x="348.50" y="433.80" width="7.80" height="20.40" fill="#93a4d9" stroke="#8d8d8d" stroke-width="0.6" />
<text x="354.63" y="444.00" font-size="6.2" fill="#22305c" text-anchor="middle" transform="rotate(-90 354.63 444.00)">236</text>
<rect x="356.30" y="433.80" width="7.80" height="20.40" fill="#93a4d9" stroke="#8d8d8d" stroke-width="0.6" />
<text x="362.43" y="444.00" font-size="6.2" fill="#22305c" text-anchor="middle" transform="rotate(-90 362.43 444.00)">238</text>
<rect x="364.10" y="433.80" width="7.80" height="20.40" fill="#93a4d9" stroke="#8d8d8d" stroke-width="0.6" />
<text x="370.23" y="444.00" font-size="6.2" fill="#22305c" text-anchor="middle" transform="rotate(-90 370.23 444.00)">240</text>
<rect x="317.30" y="476.50" width="7.80" height="20.50" fill="#93a4d9" stroke="#8d8d8d" stroke-width="0.6" />
<text x="323.43" y="486.75" font-size="6.2" fill="#22305c" text-anchor="middle" transform="rotate(-90 323.43 486.75)">229</text>
<rect x="325.10" y="476.50" width="7.80" height="20.50" fill="#93a4d9" stroke="#8d8d8d" stroke-width="0.6" />
<text x="331.23" y="486.75" font-size="6.2" fill="#22305c" text-anchor="middle" transform="rotate(-90 331.23 486.75)">231</text>
<rect x="332.90" y="476.50" width="7.80" height="20.50" fill="#93a4d9" stroke="#8d8d8d" stroke-width="0.6" />
<text x="339.03" y="486.75" font-size="6.2" fill="#22305c" text-anchor="middle" transform="rotate(-90 339.03 486.75)">233</text>
<rect x="340.70" y="476.50" width="7.80" height="20.50" fill="#93a4d9" stroke="#8d8d8d" stroke-width="0.6" />
<text x="346.83" y="486.75" font-size="6.2" fill="#22305c" text-anchor="middle" transform="rotate(-90 346.83 486.75)">235</text>
<rect x="348.50" y="476.50" width="7.80" height="20.50" fill="#93a4d9" stroke="#8d8d8d" stroke-width="0.6" />
<text x="354.63" y="486.75" font-size="6.2" fill="#22305c" text-anchor="middle" transform="rotate(-90 354.63 486.75)">237</text>
<rect x="356.30" y="476.50" width="7.80" height="20.50" fill="#93a4d9" stroke="#8d8d8d" stroke-width="0.6" />
<text x="362.43" y="486.75" font-size="6.2" fill="#22305c" text-anchor="middle" transform="rotate(-90 362.43 486.75)">239</text>
<rect x="364.10" y="476.50" width="7.80" height="20.50" fill="#93a4d9" stroke="#8d8d8d" stroke-width="0.6" />
<text x="370.23" y="486.75" font-size="6.2" fill="#22305c" text-anchor="middle" transform="rotate(-90 370.23 486.75)">241</text>
<rect x="396.30" y="433.80" width="7.86" height="20.40" fill="#93a4d9" stroke="#8d8d8d" stroke-width="0.6" />
<text x="402.46" y="444.00" font-size="6.2" fill="#22305c" text-anchor="middle" transform="rotate(-90 402.46 444.00)">242</text>
<rect x="404.16" y="433.80" width="7.86" height="20.40" fill="#93a4d9" stroke="#8d8d8d" stroke-width="0.6" />
<text x="410.32" y="444.00" font-size="6.2" fill="#22305c" text-anchor="middle" transform="rotate(-90 410.32 444.00)">244</text>
<rect x="412.01" y="433.80" width="7.86" height="20.40" fill="#93a4d9" stroke="#8d8d8d" stroke-width="0.6" />
<text x="418.17" y="444.00" font-size="6.2" fill="#22305c" text-anchor="middle" transform="rotate(-90 418.17 444.00)">246</text>
<rect x="419.87" y="433.80" width="7.86" height="20.40" fill="#93a4d9" stroke="#8d8d8d" stroke-width="0.6" />
<text x="426.03" y="444.00" font-size="6.2" fill="#22305c" text-anchor="middle" transform="rotate(-90 426.03 444.00)">248</text>
<rect x="427.73" y="433.80" width="7.86" height="20.40" fill="#93a4d9" stroke="#8d8d8d" stroke-width="0.6" />
<text x="433.89" y="444.00" font-size="6.2" fill="#22305c" text-anchor="middle" transform="rotate(-90 433.89 444.00)">250</text>
<rect x="435.59" y="433.80" width="7.86" height="20.40" fill="#93a4d9" stroke="#8d8d8d" stroke-width="0.6" />
<text x="441.75" y="444.00" font-size="6.2" fill="#22305c" text-anchor="middle" transform="rotate(-90 441.75 444.00)">252</text>
<rect x="443.44" y="433.80" width="7.86" height="20.40" fill="#93a4d9" stroke="#8d8d8d" stroke-width="0.6" />
<text x="449.60" y="444.00" font-size="6.2" fill="#22305c" text-anchor="middle" transform="rotate(-90 449.60 444.00)">254</text>
<rect x="396.30" y="476.50" width="7.86" height="20.50" fill="#93a4d9" stroke="#8d8d8d" stroke-width="0.6" />
<text x="402.46" y="486.75" font-size="6.2" fill="#22305c" text-anchor="middle" transform="rotate(-90 402.46 486.75)">243</text>
<rect x="404.16" y="476.50" width="7.86" height="20.50" fill="#93a4d9" stroke="#8d8d8d" stroke-width="0.6" />
<text x="410.32" y="486.75" font-size="6.2" fill="#22305c" text-anchor="middle" transform="rotate(-90 410.32 486.75)">245</text>
<rect x="412.01" y="476.50" width="7.86" height="20.50" fill="#93a4d9" stroke="#8d8d8d" stroke-width="0.6" />
<text x="418.17" y="486.75" font-size="6.2" fill="#22305c" text-anchor="middle" transform="rotate(-90 418.17 486.75)">247</text>
<rect x="419.87" y="476.50" width="7.86" height="20.50" fill="#93a4d9" stroke="#8d8d8d" stroke-width="0.6" />
<text x="426.03" y="486.75" font-size="6.2" fill="#22305c" text-anchor="middle" transform="rotate(-90 426.03 486.75)">249</text>
<rect x="427.73" y="476.50" width="7.86" height="20.50" fill="#93a4d9" stroke="#8d8d8d" stroke-width="0.6" />
<text x="433.89" y="486.75" font-size="6.2" fill="#22305c" text-anchor="middle" transform="rotate(-90 433.89 486.75)">251</text>
<rect x="435.59" y="476.50" width="7.86" height="20.50" fill="#93a4d9" stroke="#8d8d8d" stroke-width="0.6" />
<text x="441.75" y="486.75" font-size="6.2" fill="#22305c" text-anchor="middle" transform="rotate(-90 441.75 486.75)">253</text>
<rect x="443.44" y="476.50" width="7.86" height="20.50" fill="#93a4d9" stroke="#8d8d8d" stroke-width="0.6" />
<text x="449.60" y="486.75" font-size="6.2" fill="#22305c" text-anchor="middle" transform="rotate(-90 449.60 486.75)">255</text>
<rect x="456.60" y="433.80" width="7.78" height="20.40" fill="#93a4d9" stroke="#8d8d8d" stroke-width="0.6" />
<text x="462.72" y="444.00" font-size="6.2" fill="#22305c" text-anchor="middle" transform="rotate(-90 462.72 444.00)">256</text>
<rect x="464.38" y="433.80" width="7.78" height="20.40" fill="#93a4d9" stroke="#8d8d8d" stroke-width="0.6" />
<text x="470.51" y="444.00" font-size="6.2" fill="#22305c" text-anchor="middle" transform="rotate(-90 470.51 444.00)">258</text>
<rect x="472.17" y="433.80" width="7.78" height="20.40" fill="#93a4d9" stroke="#8d8d8d" stroke-width="0.6" />
<text x="478.29" y="444.00" font-size="6.2" fill="#22305c" text-anchor="middle" transform="rotate(-90 478.29 444.00)">260</text>
<rect x="479.95" y="433.80" width="7.78" height="20.40" fill="#93a4d9" stroke="#8d8d8d" stroke-width="0.6" />
<text x="486.07" y="444.00" font-size="6.2" fill="#22305c" text-anchor="middle" transform="rotate(-90 486.07 444.00)">262</text>
<rect x="487.73" y="433.80" width="7.78" height="20.40" fill="#93a4d9" stroke="#8d8d8d" stroke-width="0.6" />
<text x="493.86" y="444.00" font-size="6.2" fill="#22305c" text-anchor="middle" transform="rotate(-90 493.86 444.00)">264</text>
<rect x="495.52" y="433.80" width="7.78" height="20.40" fill="#93a4d9" stroke="#8d8d8d" stroke-width="0.6" />
<text x="501.64" y="444.00" font-size="6.2" fill="#22305c" text-anchor="middle" transform="rotate(-90 501.64 444.00)">266</text>
<rect x="456.60" y="476.50" width="7.81" height="20.50" fill="#93a4d9" stroke="#8d8d8d" stroke-width="0.6" />
<text x="462.74" y="486.75" font-size="6.2" fill="#22305c" text-anchor="middle" transform="rotate(-90 462.74 486.75)">257</text>
<rect x="464.41" y="476.50" width="7.81" height="20.50" fill="#93a4d9" stroke="#8d8d8d" stroke-width="0.6" />
<text x="470.55" y="486.75" font-size="6.2" fill="#22305c" text-anchor="middle" transform="rotate(-90 470.55 486.75)">259</text>
<rect x="472.23" y="476.50" width="7.81" height="20.50" fill="#93a4d9" stroke="#8d8d8d" stroke-width="0.6" />
<text x="478.37" y="486.75" font-size="6.2" fill="#22305c" text-anchor="middle" transform="rotate(-90 478.37 486.75)">261</text>
<rect x="480.04" y="476.50" width="7.81" height="20.50" fill="#93a4d9" stroke="#8d8d8d" stroke-width="0.6" />
<text x="486.18" y="486.75" font-size="6.2" fill="#22305c" text-anchor="middle" transform="rotate(-90 486.18 486.75)">263</text>
<rect x="487.86" y="476.50" width="7.81" height="20.50" fill="#93a4d9" stroke="#8d8d8d" stroke-width="0.6" />
<text x="494.00" y="486.75" font-size="6.2" fill="#22305c" text-anchor="middle" transform="rotate(-90 494.00 486.75)">265</text>
<rect x="495.67" y="476.50" width="7.81" height="20.50" fill="#93a4d9" stroke="#8d8d8d" stroke-width="0.6" />
<text x="501.81" y="486.75" font-size="6.2" fill="#22305c" text-anchor="middle" transform="rotate(-90 501.81 486.75)">267</text>
<rect x="503.49" y="476.50" width="7.81" height="20.50" fill="#93a4d9" stroke="#8d8d8d" stroke-width="0.6" />
<text x="509.62" y="486.75" font-size="6.2" fill="#22305c" text-anchor="middle" transform="rotate(-90 509.62 486.75)">269</text>
<rect x="268.00" y="463.00" width="5.60" height="4.40" fill="#666" />
<text x="274.50" y="467.40" font-size="6.4" fill="#666666" textLength="33.00" lengthAdjust="spacingAndGlyphs">ELEVATOR</text>
<rect x="505.20" y="448.30" width="6.10" height="4.50" fill="#666" />
<text x="514.00" y="452.80" font-size="6.2" fill="#666666" textLength="34.00" lengthAdjust="spacing">ELEVATOR</text>
<text x="151.80" y="464.00" font-size="5.85" fill="#333333" textLength="32.20" lengthAdjust="spacing" transform="translate(0 464.00) scale(1 1.1628) translate(0 -464.00)">NAUTICAL</text>
<text x="151.80" y="471.00" font-size="5.85" fill="#333333" textLength="15.50" lengthAdjust="spacing" transform="translate(0 471.00) scale(1 1.1628) translate(0 -471.00)">HALL</text>
<text x="171.00" y="491.70" font-size="5.85" fill="#333333" textLength="22.00" lengthAdjust="spacing" transform="translate(0 491.70) scale(1 1.1628) translate(0 -491.70)">SAUNA</text>
<path d="M 147.6,558 C 157,537.5 186,526.9 243,526.9 L 478,526.6 C 510,527 570,540.5 627,553 C 633,555 634.3,556.5 634.3,557.8 C 634.3,559 633,560.6 627,562.6 C 570,575 510,588.6 478,588.6 L 243,588.6 C 186,588.6 157,578.5 147.6,558 Z" fill="#fff" stroke="#999999" stroke-width="3.4" stroke-linejoin="round"/>
<path d="M 147.6,558 C 157,537.5 186,526.9 243,526.9 L 478,526.6 C 510,527 570,540.5 627,553 C 633,555 634.3,556.5 634.3,557.8 C 634.3,559 633,560.6 627,562.6 C 570,575 510,588.6 478,588.6 L 243,588.6 C 186,588.6 157,578.5 147.6,558 Z" fill="none" stroke="#ffffff" stroke-width="1.4" stroke-linejoin="round"/>
<rect x="246.80" y="553.30" width="49.80" height="9.20" fill="#fff" stroke="#7c7c7c" stroke-width="0.75" />
<rect x="303.30" y="553.30" width="52.20" height="9.20" fill="#fff" stroke="#7c7c7c" stroke-width="0.75" />
<rect x="359.50" y="553.30" width="55.60" height="9.20" fill="#fff" stroke="#7c7c7c" stroke-width="0.75" />
<path d="M 421.8,553.4 L 468.2,553.4 L 468.2,549 L 478.2,549 L 478.2,562.4 L 421.8,562.4 Z" fill="#fff" stroke="#7c7c7c" stroke-width="0.75" />
<path d="M 478.2,527 L 478.2,588.7" fill="none" stroke="#7c7c7c" stroke-width="0.75" />
<path d="M 245.3,548.6 L 245.3,567.4" fill="none" stroke="#7c7c7c" stroke-width="0.75" />
<rect x="243.50" y="527.60" width="7.60" height="21.00" fill="#fbb722" stroke="#8d8d8d" stroke-width="0.6" />
<text x="249.42" y="538.10" font-size="5.9" fill="#3a2a00" text-anchor="middle" transform="rotate(-90 249.42 538.10)">102</text>
<rect x="251.10" y="527.60" width="7.50" height="21.00" fill="#fbb722" stroke="#8d8d8d" stroke-width="0.6" />
<text x="256.97" y="538.10" font-size="5.9" fill="#3a2a00" text-anchor="middle" transform="rotate(-90 256.97 538.10)">104</text>
<rect x="243.50" y="567.40" width="7.60" height="21.10" fill="#fbb722" stroke="#8d8d8d" stroke-width="0.6" />
<text x="249.75" y="577.95" font-size="6.8" fill="#3a2a00" text-anchor="middle" transform="rotate(-90 249.75 577.95)">101</text>
<rect x="251.10" y="567.40" width="7.50" height="21.10" fill="#fbb722" stroke="#8d8d8d" stroke-width="0.6" />
<text x="257.30" y="577.95" font-size="6.8" fill="#3a2a00" text-anchor="middle" transform="rotate(-90 257.30 577.95)">103</text>
<rect x="258.60" y="527.60" width="7.78" height="21.00" fill="#93a4d9" stroke="#8d8d8d" stroke-width="0.6" />
<text x="264.61" y="538.10" font-size="5.9" fill="#22305c" text-anchor="middle" transform="rotate(-90 264.61 538.10)">106</text>
<rect x="266.38" y="527.60" width="7.78" height="21.00" fill="#93a4d9" stroke="#8d8d8d" stroke-width="0.6" />
<text x="272.39" y="538.10" font-size="5.9" fill="#22305c" text-anchor="middle" transform="rotate(-90 272.39 538.10)">108</text>
<rect x="274.16" y="527.60" width="7.78" height="21.00" fill="#b3cfc5" stroke="#8d8d8d" stroke-width="0.6" />
<text x="280.17" y="538.10" font-size="5.9" fill="#22305c" text-anchor="middle" transform="rotate(-90 280.17 538.10)">110</text>
<rect x="281.94" y="527.60" width="7.78" height="21.00" fill="#93a4d9" stroke="#8d8d8d" stroke-width="0.6" />
<text x="287.95" y="538.10" font-size="5.9" fill="#22305c" text-anchor="middle" transform="rotate(-90 287.95 538.10)">112</text>
<rect x="289.72" y="527.60" width="7.78" height="21.00" fill="#93a4d9" stroke="#8d8d8d" stroke-width="0.6" />
<text x="295.73" y="538.10" font-size="5.9" fill="#22305c" text-anchor="middle" transform="rotate(-90 295.73 538.10)">114</text>
<rect x="258.60" y="567.40" width="7.78" height="21.10" fill="#93a4d9" stroke="#8d8d8d" stroke-width="0.6" />
<text x="264.94" y="577.95" font-size="6.8" fill="#22305c" text-anchor="middle" transform="rotate(-90 264.94 577.95)">105</text>
<rect x="266.38" y="567.40" width="7.78" height="21.10" fill="#93a4d9" stroke="#8d8d8d" stroke-width="0.6" />
<text x="272.72" y="577.95" font-size="6.8" fill="#22305c" text-anchor="middle" transform="rotate(-90 272.72 577.95)">107</text>
<rect x="274.16" y="567.40" width="7.78" height="21.10" fill="#93a4d9" stroke="#8d8d8d" stroke-width="0.6" />
<text x="280.50" y="577.95" font-size="6.8" fill="#22305c" text-anchor="middle" transform="rotate(-90 280.50 577.95)">109</text>
<rect x="281.94" y="567.40" width="7.78" height="21.10" fill="#93a4d9" stroke="#8d8d8d" stroke-width="0.6" />
<text x="288.28" y="577.95" font-size="6.8" fill="#22305c" text-anchor="middle" transform="rotate(-90 288.28 577.95)">111</text>
<rect x="289.72" y="567.40" width="7.78" height="21.10" fill="#93a4d9" stroke="#8d8d8d" stroke-width="0.6" />
<text x="296.06" y="577.95" font-size="6.8" fill="#22305c" text-anchor="middle" transform="rotate(-90 296.06 577.95)">115</text>
<rect x="302.40" y="527.60" width="7.76" height="21.00" fill="#9fc0b4" stroke="#8d8d8d" stroke-width="0.6" />
<text x="308.40" y="538.10" font-size="5.9" fill="#23403a" text-anchor="middle" transform="rotate(-90 308.40 538.10)">116</text>
<rect x="310.16" y="527.60" width="7.76" height="21.00" fill="#9fc0b4" stroke="#8d8d8d" stroke-width="0.6" />
<text x="316.16" y="538.10" font-size="5.9" fill="#23403a" text-anchor="middle" transform="rotate(-90 316.16 538.10)">118</text>
<rect x="317.91" y="527.60" width="7.76" height="21.00" fill="#9fc0b4" stroke="#8d8d8d" stroke-width="0.6" />
<text x="323.92" y="538.10" font-size="5.9" fill="#23403a" text-anchor="middle" transform="rotate(-90 323.92 538.10)">120</text>
<rect x="325.67" y="527.60" width="7.76" height="21.00" fill="#9fc0b4" stroke="#8d8d8d" stroke-width="0.6" />
<text x="331.67" y="538.10" font-size="5.9" fill="#23403a" text-anchor="middle" transform="rotate(-90 331.67 538.10)">122</text>
<rect x="333.43" y="527.60" width="7.76" height="21.00" fill="#9fc0b4" stroke="#8d8d8d" stroke-width="0.6" />
<text x="339.43" y="538.10" font-size="5.9" fill="#23403a" text-anchor="middle" transform="rotate(-90 339.43 538.10)">124</text>
<rect x="341.19" y="527.60" width="7.76" height="21.00" fill="#9fc0b4" stroke="#8d8d8d" stroke-width="0.6" />
<text x="347.19" y="538.10" font-size="5.9" fill="#23403a" text-anchor="middle" transform="rotate(-90 347.19 538.10)">126</text>
<rect x="348.94" y="527.60" width="7.76" height="21.00" fill="#9fc0b4" stroke="#8d8d8d" stroke-width="0.6" />
<text x="354.95" y="538.10" font-size="5.9" fill="#23403a" text-anchor="middle" transform="rotate(-90 354.95 538.10)">128</text>
<rect x="302.40" y="567.40" width="7.76" height="21.10" fill="#9fc0b4" stroke="#8d8d8d" stroke-width="0.6" />
<text x="308.73" y="577.95" font-size="6.8" fill="#23403a" text-anchor="middle" transform="rotate(-90 308.73 577.95)">117</text>
<rect x="310.16" y="567.40" width="7.76" height="21.10" fill="#9fc0b4" stroke="#8d8d8d" stroke-width="0.6" />
<text x="316.48" y="577.95" font-size="6.8" fill="#23403a" text-anchor="middle" transform="rotate(-90 316.48 577.95)">119</text>
<rect x="317.91" y="567.40" width="7.76" height="21.10" fill="#9fc0b4" stroke="#8d8d8d" stroke-width="0.6" />
<text x="324.24" y="577.95" font-size="6.8" fill="#23403a" text-anchor="middle" transform="rotate(-90 324.24 577.95)">121</text>
<rect x="325.67" y="567.40" width="7.76" height="21.10" fill="#9fc0b4" stroke="#8d8d8d" stroke-width="0.6" />
<text x="332.00" y="577.95" font-size="6.8" fill="#23403a" text-anchor="middle" transform="rotate(-90 332.00 577.95)">123</text>
<rect x="333.43" y="567.40" width="7.76" height="21.10" fill="#9fc0b4" stroke="#8d8d8d" stroke-width="0.6" />
<text x="339.76" y="577.95" font-size="6.8" fill="#23403a" text-anchor="middle" transform="rotate(-90 339.76 577.95)">125</text>
<rect x="341.19" y="567.40" width="7.76" height="21.10" fill="#9fc0b4" stroke="#8d8d8d" stroke-width="0.6" />
<text x="347.51" y="577.95" font-size="6.8" fill="#23403a" text-anchor="middle" transform="rotate(-90 347.51 577.95)">127</text>
<rect x="348.94" y="567.40" width="7.76" height="21.10" fill="#9fc0b4" stroke="#8d8d8d" stroke-width="0.6" />
<text x="355.27" y="577.95" font-size="6.8" fill="#23403a" text-anchor="middle" transform="rotate(-90 355.27 577.95)">129</text>
<rect x="362.30" y="527.60" width="7.71" height="21.00" fill="#9fc0b4" stroke="#8d8d8d" stroke-width="0.6" />
<text x="368.28" y="538.10" font-size="5.9" fill="#23403a" text-anchor="middle" transform="rotate(-90 368.28 538.10)">130</text>
<rect x="370.01" y="527.60" width="7.71" height="21.00" fill="#9fc0b4" stroke="#8d8d8d" stroke-width="0.6" />
<text x="376.00" y="538.10" font-size="5.9" fill="#23403a" text-anchor="middle" transform="rotate(-90 376.00 538.10)">132</text>
<rect x="377.73" y="527.60" width="7.71" height="21.00" fill="#9fc0b4" stroke="#8d8d8d" stroke-width="0.6" />
<text x="383.71" y="538.10" font-size="5.9" fill="#23403a" text-anchor="middle" transform="rotate(-90 383.71 538.10)">134</text>
<rect x="385.44" y="527.60" width="7.71" height="21.00" fill="#9fc0b4" stroke="#8d8d8d" stroke-width="0.6" />
<text x="391.42" y="538.10" font-size="5.9" fill="#23403a" text-anchor="middle" transform="rotate(-90 391.42 538.10)">136</text>
<rect x="393.16" y="527.60" width="7.71" height="21.00" fill="#9fc0b4" stroke="#8d8d8d" stroke-width="0.6" />
<text x="399.14" y="538.10" font-size="5.9" fill="#23403a" text-anchor="middle" transform="rotate(-90 399.14 538.10)">138</text>
<rect x="400.87" y="527.60" width="7.71" height="21.00" fill="#9fc0b4" stroke="#8d8d8d" stroke-width="0.6" />
<text x="406.85" y="538.10" font-size="5.9" fill="#23403a" text-anchor="middle" transform="rotate(-90 406.85 538.10)">140</text>
<rect x="408.59" y="527.60" width="7.71" height="21.00" fill="#9fc0b4" stroke="#8d8d8d" stroke-width="0.6" />
<text x="414.57" y="538.10" font-size="5.9" fill="#23403a" text-anchor="middle" transform="rotate(-90 414.57 538.10)">142</text>
<rect x="362.30" y="567.40" width="7.71" height="21.10" fill="#9fc0b4" stroke="#8d8d8d" stroke-width="0.6" />
<text x="368.61" y="577.95" font-size="6.8" fill="#23403a" text-anchor="middle" transform="rotate(-90 368.61 577.95)">131</text>
<rect x="370.01" y="567.40" width="7.71" height="21.10" fill="#9fc0b4" stroke="#8d8d8d" stroke-width="0.6" />
<text x="376.32" y="577.95" font-size="6.8" fill="#23403a" text-anchor="middle" transform="rotate(-90 376.32 577.95)">133</text>
<rect x="377.73" y="567.40" width="7.71" height="21.10" fill="#9fc0b4" stroke="#8d8d8d" stroke-width="0.6" />
<text x="384.03" y="577.95" font-size="6.8" fill="#23403a" text-anchor="middle" transform="rotate(-90 384.03 577.95)">135</text>
<rect x="385.44" y="567.40" width="7.71" height="21.10" fill="#9fc0b4" stroke="#8d8d8d" stroke-width="0.6" />
<text x="391.75" y="577.95" font-size="6.8" fill="#23403a" text-anchor="middle" transform="rotate(-90 391.75 577.95)">137</text>
<rect x="393.16" y="567.40" width="7.71" height="21.10" fill="#9fc0b4" stroke="#8d8d8d" stroke-width="0.6" />
<text x="399.46" y="577.95" font-size="6.8" fill="#23403a" text-anchor="middle" transform="rotate(-90 399.46 577.95)">139</text>
<rect x="400.87" y="567.40" width="7.71" height="21.10" fill="#9fc0b4" stroke="#8d8d8d" stroke-width="0.6" />
<text x="407.18" y="577.95" font-size="6.8" fill="#23403a" text-anchor="middle" transform="rotate(-90 407.18 577.95)">141</text>
<rect x="408.59" y="567.40" width="7.71" height="21.10" fill="#9fc0b4" stroke="#8d8d8d" stroke-width="0.6" />
<text x="414.89" y="577.95" font-size="6.8" fill="#23403a" text-anchor="middle" transform="rotate(-90 414.89 577.95)">143</text>
<rect x="422.20" y="527.60" width="7.63" height="21.00" fill="#9fc0b4" stroke="#8d8d8d" stroke-width="0.6" />
<text x="428.14" y="538.10" font-size="5.9" fill="#23403a" text-anchor="middle" transform="rotate(-90 428.14 538.10)">144</text>
<rect x="429.83" y="527.60" width="7.63" height="21.00" fill="#9fc0b4" stroke="#8d8d8d" stroke-width="0.6" />
<text x="435.77" y="538.10" font-size="5.9" fill="#23403a" text-anchor="middle" transform="rotate(-90 435.77 538.10)">146</text>
<rect x="437.47" y="527.60" width="7.63" height="21.00" fill="#9fc0b4" stroke="#8d8d8d" stroke-width="0.6" />
<text x="443.41" y="538.10" font-size="5.9" fill="#23403a" text-anchor="middle" transform="rotate(-90 443.41 538.10)">148</text>
<rect x="422.20" y="567.40" width="7.63" height="21.10" fill="#9fc0b4" stroke="#8d8d8d" stroke-width="0.6" />
<text x="428.46" y="577.95" font-size="6.8" fill="#23403a" text-anchor="middle" transform="rotate(-90 428.46 577.95)">145</text>
<rect x="429.83" y="567.40" width="7.63" height="21.10" fill="#9fc0b4" stroke="#8d8d8d" stroke-width="0.6" />
<text x="436.10" y="577.95" font-size="6.8" fill="#23403a" text-anchor="middle" transform="rotate(-90 436.10 577.95)">147</text>
<rect x="437.47" y="567.40" width="7.63" height="21.10" fill="#9fc0b4" stroke="#8d8d8d" stroke-width="0.6" />
<text x="443.73" y="577.95" font-size="6.8" fill="#23403a" text-anchor="middle" transform="rotate(-90 443.73 577.95)">149</text>
<rect x="445.10" y="527.60" width="7.80" height="21.00" fill="#93a4d9" stroke="#8d8d8d" stroke-width="0.6" />
<text x="451.12" y="538.10" font-size="5.9" fill="#22305c" text-anchor="middle" transform="rotate(-90 451.12 538.10)">150</text>
<rect x="452.90" y="527.60" width="7.80" height="21.00" fill="#93a4d9" stroke="#8d8d8d" stroke-width="0.6" />
<text x="458.92" y="538.10" font-size="5.9" fill="#22305c" text-anchor="middle" transform="rotate(-90 458.92 538.10)">152</text>
<rect x="445.10" y="567.40" width="7.67" height="21.10" fill="#93a4d9" stroke="#8d8d8d" stroke-width="0.6" />
<text x="451.38" y="577.95" font-size="6.8" fill="#22305c" text-anchor="middle" transform="rotate(-90 451.38 577.95)">151</text>
<rect x="452.77" y="567.40" width="7.67" height="21.10" fill="#93a4d9" stroke="#8d8d8d" stroke-width="0.6" />
<text x="459.05" y="577.95" font-size="6.8" fill="#22305c" text-anchor="middle" transform="rotate(-90 459.05 577.95)">153</text>
<rect x="460.43" y="567.40" width="7.67" height="21.10" fill="#93a4d9" stroke="#8d8d8d" stroke-width="0.6" />
<text x="466.71" y="577.95" font-size="6.8" fill="#22305c" text-anchor="middle" transform="rotate(-90 466.71 577.95)">155</text>
<rect x="460.70" y="527.60" width="7.40" height="21.00" fill="#fbb722" stroke="#8d8d8d" stroke-width="0.6" />
<text x="466.52" y="538.10" font-size="5.9" fill="#3a2a00" text-anchor="middle" transform="rotate(-90 466.52 538.10)">154</text>
<rect x="468.10" y="567.40" width="8.00" height="21.10" fill="#fbb722" stroke="#8d8d8d" stroke-width="0.6" />
<text x="474.55" y="577.95" font-size="6.8" fill="#3a2a00" text-anchor="middle" transform="rotate(-90 474.55 577.95)">157</text>
<rect x="251.20" y="555.20" width="6.50" height="4.80" fill="#666" />
<text x="260.00" y="560.10" font-size="6.6" fill="#666666" textLength="32.70" lengthAdjust="spacingAndGlyphs">ELEVATOR</text>
<rect x="470.40" y="542.40" width="5.70" height="4.40" fill="#666" />
<text x="480.00" y="546.80" font-size="6.4" fill="#666666" textLength="34.00" lengthAdjust="spacing">ELEVATOR</text>
<circle cx="53" cy="622.9" r="8.1" fill="#8e9fd4"/>
<text x="53.25" y="645.90" font-size="11.1" fill="#333" text-anchor="middle" letter-spacing="0.5">81 SUPERIOR</text>
<text x="53.25" y="659.80" font-size="11.1" fill="#333" text-anchor="middle" letter-spacing="0.5">CABINS</text>
<text x="53.25" y="675.00" font-size="11.1" fill="#333" text-anchor="middle" letter-spacing="0.5">18m<tspan font-size="6.8" dy="-4.6">2</tspan></text>
<text x="53.24" y="689.90" font-size="9.2" fill="#3a3a3a" text-anchor="middle" letter-spacing="0.48">2-bed cabins which</text>
<text x="53.24" y="701.30" font-size="9.2" fill="#3a3a3a" text-anchor="middle" letter-spacing="0.48">can be transformed</text>
<text x="53.24" y="712.70" font-size="9.2" fill="#3a3a3a" text-anchor="middle" letter-spacing="0.48">into one large bed.</text>
<circle cx="158.6" cy="622.9" r="8.1" fill="#fbb92a"/>
<text x="158.85" y="645.90" font-size="11.1" fill="#333" text-anchor="middle" letter-spacing="0.5">12 SUPERIOR</text>
<text x="158.85" y="659.80" font-size="11.1" fill="#333" text-anchor="middle" letter-spacing="0.5">CABINS</text>
<text x="158.85" y="675.00" font-size="11.1" fill="#333" text-anchor="middle" letter-spacing="0.5">18m<tspan font-size="6.8" dy="-4.6">2</tspan></text>
<text x="158.84" y="689.90" font-size="9.2" fill="#3a3a3a" text-anchor="middle" letter-spacing="0.48">Cabins</text>
<text x="158.84" y="701.30" font-size="9.2" fill="#3a3a3a" text-anchor="middle" letter-spacing="0.48">with one large bed.</text>
<circle cx="271.2" cy="622.9" r="8.1" fill="#9bbdb3"/>
<text x="271.45" y="645.90" font-size="11.1" fill="#333" text-anchor="middle" letter-spacing="0.5">35 SUPERIOR</text>
<text x="271.45" y="659.80" font-size="11.1" fill="#333" text-anchor="middle" letter-spacing="0.5">CABINS</text>
<text x="271.45" y="675.00" font-size="11.1" fill="#333" text-anchor="middle" letter-spacing="0.5">18m<tspan font-size="6.8" dy="-4.6">2</tspan></text>
<text x="271.44" y="689.90" font-size="9.2" fill="#3a3a3a" text-anchor="middle" letter-spacing="0.48">2-bed cabins which</text>
<text x="271.44" y="701.30" font-size="9.2" fill="#3a3a3a" text-anchor="middle" letter-spacing="0.48">can be transformed into</text>
<text x="271.44" y="712.70" font-size="9.2" fill="#3a3a3a" text-anchor="middle" letter-spacing="0.48">3 beds: one double bed</text>
<text x="271.44" y="724.10" font-size="9.2" fill="#3a3a3a" text-anchor="middle" letter-spacing="0.48">and a single bed</text>
<text x="271.44" y="735.50" font-size="9.2" fill="#3a3a3a" text-anchor="middle" letter-spacing="0.48">(ages 8-17).</text>
<circle cx="390.7" cy="622.9" r="8.1" fill="#d3cbbd"/>
<text x="390.95" y="645.90" font-size="11.1" fill="#333" text-anchor="middle" letter-spacing="0.5">5 DELUXE</text>
<text x="390.95" y="659.80" font-size="11.1" fill="#333" text-anchor="middle" letter-spacing="0.5">CABINS</text>
<text x="390.95" y="675.00" font-size="11.1" fill="#333" text-anchor="middle" letter-spacing="0.5">24m<tspan font-size="6.8" dy="-4.6">2</tspan></text>
<text x="390.94" y="689.90" font-size="9.2" fill="#3a3a3a" text-anchor="middle" letter-spacing="0.48">2-bed cabins which</text>
<text x="390.94" y="701.30" font-size="9.2" fill="#3a3a3a" text-anchor="middle" letter-spacing="0.48">can be transformed</text>
<text x="390.94" y="712.70" font-size="9.2" fill="#3a3a3a" text-anchor="middle" letter-spacing="0.48">into one large bed.</text>
<circle cx="512.7" cy="622.9" r="8.1" fill="#a9472f"/>
<text x="512.95" y="646.70" font-size="11.1" fill="#333" text-anchor="middle" letter-spacing="0.5">10</text>
<text x="512.95" y="662.00" font-size="11.1" fill="#333" text-anchor="middle" letter-spacing="0.5">SUITES</text>
<text x="512.95" y="675.70" font-size="11.1" fill="#333" text-anchor="middle" letter-spacing="0.5">36m<tspan font-size="6.8" dy="-4.6">2</tspan></text>
<text x="512.94" y="691.10" font-size="9.2" fill="#3a3a3a" text-anchor="middle" letter-spacing="0.48">2-bed cabins which</text>
<text x="512.94" y="702.50" font-size="9.2" fill="#3a3a3a" text-anchor="middle" letter-spacing="0.48">can be transformed into</text>
<text x="512.94" y="713.90" font-size="9.2" fill="#3a3a3a" text-anchor="middle" letter-spacing="0.48">3 beds: one double bed and</text>
<text x="512.94" y="725.30" font-size="9.2" fill="#3a3a3a" text-anchor="middle" letter-spacing="0.48">a single bed (ages 8-11).</text>
<circle cx="630.2" cy="622.9" r="8.1" fill="#152654"/>
<text x="630.45" y="646.70" font-size="11.1" fill="#333" text-anchor="middle" letter-spacing="0.5">20</text>
<text x="630.45" y="662.00" font-size="11.1" fill="#333" text-anchor="middle" letter-spacing="0.5">SUITES</text>
<text x="630.45" y="675.70" font-size="11.1" fill="#333" text-anchor="middle" letter-spacing="0.5">36m<tspan font-size="6.8" dy="-4.6">2</tspan></text>
<text x="630.44" y="691.10" font-size="9.2" fill="#3a3a3a" text-anchor="middle" letter-spacing="0.48">2-bed cabins which</text>
<text x="630.44" y="702.50" font-size="9.2" fill="#3a3a3a" text-anchor="middle" letter-spacing="0.48">can be transformed</text>
<text x="630.44" y="713.90" font-size="9.2" fill="#3a3a3a" text-anchor="middle" letter-spacing="0.48">into one large bed.</text>
<circle cx="734.9" cy="622.9" r="8.1" fill="#e8e4dd" stroke="#c8c4bd" stroke-width="0.8"/>
<text x="735.15" y="646.70" font-size="11.1" fill="#333" text-anchor="middle" letter-spacing="0.5">1 ARMATEUR</text>
<text x="735.15" y="662.00" font-size="11.1" fill="#333" text-anchor="middle" letter-spacing="0.5">SUITE</text>
<text x="735.15" y="675.70" font-size="11.1" fill="#333" text-anchor="middle" letter-spacing="0.5">40m<tspan font-size="6.8" dy="-4.6">2</tspan></text>
<text x="735.14" y="691.10" font-size="9.2" fill="#3a3a3a" text-anchor="middle" letter-spacing="0.48">2-bed cabins which</text>
<text x="735.14" y="702.50" font-size="9.2" fill="#3a3a3a" text-anchor="middle" letter-spacing="0.48">can be transformed</text>
<text x="735.14" y="713.90" font-size="9.2" fill="#3a3a3a" text-anchor="middle" letter-spacing="0.48">into one large bed.</text>
</svg>
</body></html>
